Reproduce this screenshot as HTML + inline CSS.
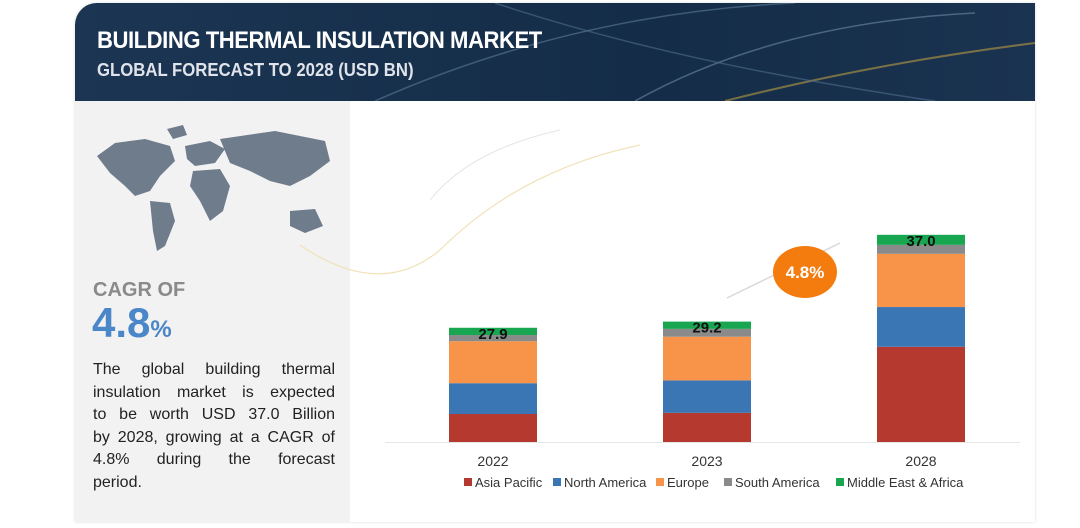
<!DOCTYPE html>
<html><head><meta charset="utf-8"><style>
body{margin:0;width:1080px;height:528px;background:#fff;font-family:"Liberation Sans",sans-serif;position:relative;overflow:hidden}
.card{position:absolute;left:75px;top:3px;width:960px;height:519px;border-radius:22px 0 0 0;overflow:hidden;background:#fff;box-shadow:0 0 3px #ddd}
.hdr{position:absolute;left:0;top:0;width:960px;height:98px;background:linear-gradient(90deg,#1b3553,#142c47 60%,#1a3350)}
.t1{position:absolute;left:22px;top:24px;color:#fff;font-weight:bold;font-size:24px;letter-spacing:-0.5px;transform:scaleX(0.92);transform-origin:left}
.t2{position:absolute;left:22px;top:57px;color:#e0e4ea;font-weight:bold;font-size:18px;transform:scaleX(0.93);transform-origin:left}
.left{position:absolute;left:0;top:98px;width:275px;height:421px;background:#f2f2f2}
.cagr{position:absolute;left:18px;top:178px;color:#8a8a8a;font-size:20px;font-weight:bold}
.big{position:absolute;left:17px;top:198px;color:#4a86c8;font-size:42px;font-weight:bold}
.big span{font-size:24px}
.para{position:absolute;left:18px;top:258px;width:242px;font-size:16px;line-height:22.5px;color:#222}
.para div{text-align:justify;text-align-last:justify;white-space:nowrap}
.para div.last{text-align-last:left}
</style></head><body>
<div class="card">
 <div class="hdr">
  <svg width="960" height="98" style="position:absolute;left:0;top:0">
   <path d="M300 98 Q500 10 720 0" stroke="#5a7a9a" stroke-width="1.5" fill="none" opacity=".6"/>
   <path d="M560 98 Q700 20 900 10" stroke="#6a8aa8" stroke-width="1.5" fill="none" opacity=".6"/>
   <path d="M650 98 Q800 60 960 40" stroke="#d8b040" stroke-width="2" fill="none" opacity=".5"/>
   <path d="M420 0 Q600 60 860 98" stroke="#4e6e8e" stroke-width="1.5" fill="none" opacity=".6"/>
  </svg>
  <div class="t1">BUILDING THERMAL INSULATION MARKET</div>
  <div class="t2">GLOBAL FORECAST TO 2028 (USD BN)</div>
 </div>
 <div class="left">
  <svg width="275" height="160" style="position:absolute;left:0;top:0">
   <g fill="#6f7c8c">
    <path d="M22 55 L40 42 L70 38 L95 45 L100 60 L85 75 L75 90 L60 95 L50 85 L35 72 Z"/>
    <path d="M75 100 L95 102 L100 120 L90 145 L82 150 L78 130 Z"/>
    <path d="M110 45 L135 40 L150 48 L140 62 L120 65 L112 58 Z"/>
    <path d="M118 70 L145 68 L155 85 L148 110 L135 120 L125 100 L115 85 Z"/>
    <path d="M145 38 L200 30 L250 40 L255 60 L235 75 L215 85 L195 80 L175 70 L155 62 Z"/>
    <path d="M215 110 L240 108 L248 125 L230 132 L215 125 Z"/>
    <path d="M92 28 L108 24 L112 34 L98 38 Z"/>
   </g>
  </svg>
  <div class="cagr">CAGR OF</div>
  <div class="big">4.8<span>%</span></div>
  <div class="para"><div>The global building thermal</div><div>insulation market is expected</div><div>to be worth USD 37.0 Billion</div><div>by 2028, growing at a CAGR of</div><div>4.8% during the forecast</div><div class="last">period.</div></div>
 </div>
</div>
<svg id="chart" width="1080" height="528" style="position:absolute;left:0;top:0">
 <path d="M300 245 Q380 300 440 250 Q520 170 640 145" stroke="#f0e2b8" stroke-width="1.2" fill="none"/>
 <path d="M430 200 Q470 150 560 130" stroke="#e4e4e4" stroke-width="1" fill="none"/>
</svg>
<script>
const categories=["2022","2023","2028"];
const totals=["27.9","29.2","37.0"];
const asiaPacific=[5.0,5.2,17.0];
const northAmerica=[5.5,5.8,7.1];
const europe=[7.5,7.8,9.5];
const southAmerica=[1.1,1.4,1.6];
const mea=[1.3,1.3,1.8];
const seriesNames=["Asia Pacific","North America","Europe","South America","Middle East & Africa"];
const seriesColors=["#b5392f","#3a76b4","#f7944a","#8a8a8a","#19a651"];
const series=[asiaPacific,northAmerica,europe,southAmerica,mea];
const svg=document.getElementById('chart');
const NS="http://www.w3.org/2000/svg";
const base=442,k=5.6;
const y=v=>base-v*k;
const xc=i=>[493,707,921][i];
const bw=88;
function mk(t,a){const e=document.createElementNS(NS,t);for(const p in a)e.setAttribute(p,a[p]);svg.appendChild(e);return e;}
const ax=mk('line',{x1:385,x2:1020,y1:base+0.5,y2:base+0.5,stroke:'#e6e6e6','stroke-width':1});


categories.forEach((c,i)=>{
 let cum=0;
 series.forEach((s,j)=>{
  const r=mk('rect',{x:xc(i)-bw/2,y:y(cum+s[i]),width:bw,height:s[i]*k,fill:seriesColors[j]});
  
  
  cum+=s[i];
 });
 const t=mk('text',{x:xc(i),y:y(cum)+11,'text-anchor':'middle','font-size':15,'font-weight':'bold',fill:'#111','font-family':'Liberation Sans'});
 t.textContent=totals[i];
 
 
 const l=mk('text',{x:xc(i),y:466,'text-anchor':'middle','font-size':14,fill:'#333','font-family':'Liberation Sans'});
 l.textContent=c;
 
 
});
const ar=mk('line',{x1:727,y1:298,x2:840,y2:243,stroke:'#d8d8d8','stroke-width':1.5});


const el=mk('ellipse',{cx:805,cy:272,rx:32,ry:26,fill:'#f47c0e'});


const et=mk('text',{x:805,y:278,'text-anchor':'middle','font-size':17,'font-weight':'bold',fill:'#fff','font-family':'Liberation Sans'});
et.textContent='4.8%';


const lx=[464,553,656,724,836];
seriesNames.forEach((n,j)=>{
 const r=mk('rect',{x:lx[j],y:478,width:8,height:8,fill:seriesColors[j]});
 
 
 const t=mk('text',{x:lx[j]+11,y:487,'font-size':13,fill:'#333','font-family':'Liberation Sans'});
 t.textContent=n;
 
 
});
</script>
</body></html>
